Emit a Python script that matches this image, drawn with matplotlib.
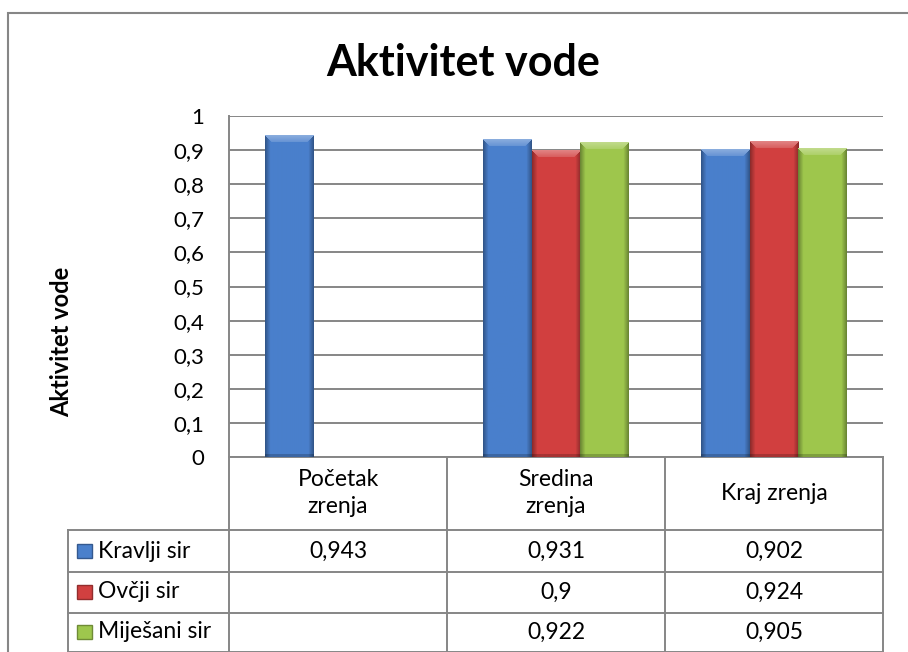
import numpy as np
import matplotlib
matplotlib.use("Agg")
import matplotlib.pyplot as plt
from matplotlib.patches import Rectangle
from matplotlib.lines import Line2D
from matplotlib.transforms import blended_transform_factory

plt.rcParams["font.family"] = ["Lato", "DejaVu Sans"]

# data
categories = ["Početak\nzrenja", "Sredina\nzrenja", "Kraj zrenja"]
series = ["Kravlji sir", "Ovčji sir", "Miješani sir"]
kravlji = [0.943, 0.931, 0.902]
ovcji = [None, 0.9, 0.924]
mijesani = [None, 0.922, 0.905]
values = [kravlji, ovcji, mijesani]
colors = [(0.29, 0.50, 0.80), (0.82, 0.25, 0.25), (0.62, 0.78, 0.30)]
yticks = [0, 0.1, 0.2, 0.3, 0.4, 0.5, 0.6, 0.7, 0.8, 0.9, 1]

W, H = 908, 652
GRAY = "#868686"
FS = 16.5


def fmt(v):
    if v is None:
        return ""
    return f"{v:g}".replace(".", ",")


def bar_image(col, val, wpx=48, hpx_full=341, bev=7):
    h = max(int(round(val * hpx_full)), bev + 2)
    col = np.array(col)
    img = np.ones((h, wpx, 3)) * col
    for j in range(wpx):
        d = min(j, wpx - 1 - j)
        if d < 5:
            img[:, j, :] *= 0.68 + 0.064 * d
    for i in range(bev):
        for j in range(wpx):
            if i <= min(j, wpx - 1 - j):
                img[i, j, :] = col + (1 - col) * (0.35 - 0.03 * i)
    img[-3:, :, :] *= 0.8
    return np.clip(img, 0, 1)


fig = plt.figure(figsize=(W / 100, H / 100), dpi=100)
ax = fig.add_axes([229 / W, (H - 457) / H, 654 / W, 341 / H])

x = np.arange(len(categories))
bw = 1 / 4.5
for k, (vals, col) in enumerate(zip(values, colors)):
    for i, v in enumerate(vals):
        if v is None:
            continue
        xc = x[i] + (k - 1) * bw
        ax.imshow(bar_image(col, v), extent=(xc - bw / 2, xc + bw / 2, 0, v),
                  aspect="auto", interpolation="bilinear", zorder=3)

ax.set_xlim(-0.5, 2.5)
ax.set_ylim(0, 1)
ax.set_yticks(yticks)
ax.set_yticklabels([fmt(t) for t in yticks], fontsize=16)
ax.tick_params(axis="y", length=0, pad=18)
ax.set_xticks([])
ax.grid(axis="y", color=GRAY, lw=1.4, zorder=0)
ax.set_axisbelow(True)
for s in ["top", "right"]:
    ax.spines[s].set_visible(False)
for s in ["left", "bottom"]:
    ax.spines[s].set_color(GRAY)
    ax.spines[s].set_linewidth(1.4)

# data table below the axes
tr = blended_transform_factory(ax.transData, ax.transAxes)
px = lambda yy: (457 - yy) / 341
rows_y = [px(530), px(572), px(613), px(652)]
left_x = -0.5 - 161 / 218
lkw = dict(color=GRAY, lw=1.4, transform=tr, clip_on=False)
for yy in rows_y:
    ax.add_line(Line2D([left_x, 2.5], [yy, yy], **lkw))
for xb in [-0.5, 0.5, 1.5, 2.5]:
    ax.add_line(Line2D([xb, xb], [0, rows_y[-1]], **lkw))
ax.add_line(Line2D([left_x, left_x], [rows_y[0], rows_y[-1]], **lkw))

for i, c in enumerate(categories):
    ax.text(x[i], px(493), c, transform=tr, ha="center", va="center",
            fontsize=FS, linespacing=1.35)

row_c = [px(551), px(592), px(632)]
for k, (name, vals, col) in enumerate(zip(series, values, colors)):
    ax.add_patch(Rectangle((left_x + 9 / 218, row_c[k] - 7 / 341), 15 / 218, 14 / 341,
                           facecolor=col, edgecolor=tuple(np.array(col) * 0.7),
                           lw=1, transform=tr, clip_on=False))
    ax.text(left_x + 30 / 218, row_c[k], name, transform=tr, ha="left",
            va="center", fontsize=FS)
    for i, v in enumerate(vals):
        ax.text(x[i], row_c[k], fmt(v), transform=tr, ha="center",
                va="center", fontsize=FS)

# outer chart frame
fig.add_artist(Rectangle((8 / W, -0.1), 1.2, (H - 13) / H + 0.1,
                         transform=fig.transFigure, fill=False,
                         edgecolor=GRAY, lw=1.5))

fig.text(463 / W, (H - 76) / H, "Aktivitet vode", ha="center", va="baseline",
         fontsize=31, fontweight="bold")
fig.text(62 / W, (H - 342) / H, "Aktivitet vode", ha="center", va="center",
         rotation=90, fontsize=17, fontweight="bold")

fig.savefig("out.png", dpi=100)
